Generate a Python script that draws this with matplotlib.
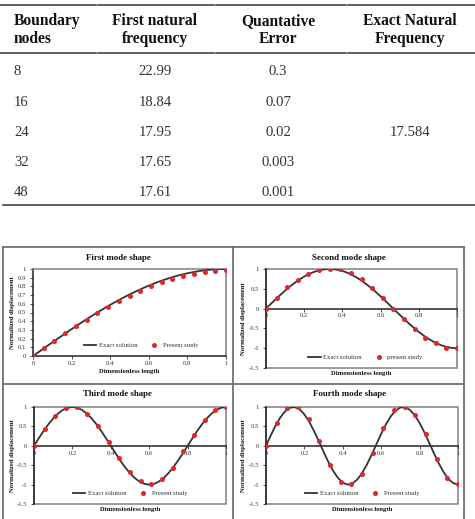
import matplotlib
matplotlib.use('Agg')
import matplotlib.pyplot as plt
import numpy as np
from matplotlib.lines import Line2D
from matplotlib.patches import Rectangle

plt.rcParams['font.family'] = ['Liberation Serif', 'DejaVu Serif']

# ---------------- table data ----------------
header = ["Boundary\nnodes", "First natural\nfrequency", "Quantative\nError", "Exact Natural\nFrequency"]
boundary_nodes = ["8", "16", "24", "32", "48"]
first_freq = ["22.99", "18.84", "17.95", "17.65", "17.61"]
quant_error = ["0.3", "0.07", "0.02", "0.003", "0.001"]
exact_freq = "17.584"

# ---------------- chart data ----------------
x_curve = np.linspace(0, 1, 41)
mode1_exact = [0, 0.039, 0.078, 0.118, 0.156, 0.195, 0.233, 0.271, 0.309, 0.346, 0.383,
               0.419, 0.454, 0.489, 0.522, 0.556, 0.588, 0.619, 0.649, 0.679, 0.707,
               0.734, 0.760, 0.785, 0.809, 0.831, 0.853, 0.872, 0.891, 0.908, 0.924,
               0.938, 0.951, 0.962, 0.972, 0.981, 0.988, 0.993, 0.997, 0.999, 1.0]
mode2_exact = [0, 0.118, 0.233, 0.346, 0.454, 0.556, 0.649, 0.734, 0.809, 0.872, 0.924,
               0.962, 0.988, 0.999, 0.997, 0.981, 0.951, 0.908, 0.853, 0.785, 0.707,
               0.619, 0.522, 0.419, 0.309, 0.195, 0.078, -0.039, -0.156, -0.271, -0.383,
               -0.489, -0.588, -0.679, -0.760, -0.831, -0.891, -0.938, -0.972, -0.993, -1.0]
mode3_exact = [0, 0.195, 0.383, 0.556, 0.707, 0.831, 0.924, 0.981, 1.0, 0.981, 0.924,
               0.831, 0.707, 0.556, 0.383, 0.195, 0, -0.195, -0.383, -0.556, -0.707,
               -0.831, -0.924, -0.981, -1.0, -0.981, -0.924, -0.831, -0.707, -0.556, -0.383,
               -0.195, 0, 0.195, 0.383, 0.556, 0.707, 0.831, 0.924, 0.981, 1.0]
mode4_exact = [0, 0.271, 0.522, 0.734, 0.891, 0.981, 0.997, 0.938, 0.809, 0.619, 0.383,
               0.118, -0.156, -0.419, -0.649, -0.831, -0.951, -0.999, -0.972, -0.872, -0.707,
               -0.489, -0.233, 0.039, 0.309, 0.556, 0.760, 0.908, 0.988, 0.993, 0.924,
               0.785, 0.588, 0.346, 0.078, -0.195, -0.454, -0.679, -0.853, -0.962, -1.0]

x_pts = np.linspace(0, 1, 19)
mode1_present = [0, 0.088, 0.17, 0.26, 0.34, 0.415, 0.49, 0.56, 0.63, 0.685,
                 0.75, 0.80, 0.85, 0.88, 0.915, 0.94, 0.96, 0.98, 0.99]
mode2_present = [0, 0.28, 0.55, 0.73, 0.88, 0.98, 1.0, 1.0, 0.89, 0.74,
                 0.53, 0.28, 0.0, -0.27, -0.51, -0.73, -0.88, -0.99, -1.0]
mode3_present = [0, 0.44, 0.77, 0.97, 1.0, 0.83, 0.51, 0.09, -0.32, -0.68,
                 -0.92, -0.99, -0.85, -0.56, -0.13, 0.27, 0.66, 0.93, 1.0]
mode4_present = [0, 0.60, 0.97, 1.0, 0.68, 0.13, -0.50, -0.94, -0.99, -0.73,
                 -0.18, 0.47, 0.93, 1.0, 0.80, 0.30, -0.34, -0.84, -0.99]

titles = ["First mode shape", "Second mode shape", "Third mode shape", "Fourth mode shape"]
legend_present = ["Present study", "present study", "Present study", "Present study"]

W, H = 475, 519
fig = plt.figure(figsize=(W / 100, H / 100), dpi=100)


def fx(px):
    return px / W


def fy(py):
    return 1 - py / H


def hline(y, x0, x1, color='#333333', lw=1.1):
    fig.add_artist(Line2D([fx(x0), fx(x1)], [fy(y), fy(y)], transform=fig.transFigure,
                          color=color, lw=lw))


def vline(x, y0, y1, color='#333333', lw=1.1):
    fig.add_artist(Line2D([fx(x), fx(x)], [fy(y0), fy(y1)], transform=fig.transFigure,
                          color=color, lw=lw))


# ---------------- table ----------------
for (a, b) in [(0, 96), (98, 214), (216, 346), (348, 475)]:
    hline(4.5, a, b)
    hline(53, a, b)
hline(205, 3, 475)

col_x = [14, 155, 278, 410]
col_ha = ['left', 'center', 'center', 'center']
for h, cx, ha in zip(header, col_x, col_ha):
    fig.text(fx(cx), fy(30), h, ha=ha, va='center', fontsize=11.2, fontweight='bold',
             linespacing=1.18, color='#111111', multialignment=ha)

row_y = [72, 102, 132, 162, 193]
for i, ry in enumerate(row_y):
    fig.text(fx(col_x[0]), fy(ry), boundary_nodes[i], ha='left', va='center', fontsize=10.6, color='#333333')
    fig.text(fx(col_x[1]), fy(ry), first_freq[i], ha='center', va='center', fontsize=10.6, color='#333333')
    fig.text(fx(col_x[2]), fy(ry), quant_error[i], ha='center', va='center', fontsize=10.6, color='#333333')
fig.text(fx(col_x[3]), fy(row_y[2]), exact_freq, ha='center', va='center', fontsize=10.6, color='#333333')

# ---------------- chart frame ----------------
frame_c = '#666666'
hline(247, 2.5, 464, color=frame_c, lw=1.2)
hline(384, 2.5, 464, color=frame_c, lw=1.2)
vline(2.5, 247, 519, color=frame_c, lw=1.2)
vline(464, 247, 519, color=frame_c, lw=1.2)
vline(233, 247, 519, color=frame_c, lw=1.2)

# ---------------- charts ----------------
boxes = [(33, 226, 269, 356), (266, 457, 269, 368), (34, 226, 407, 504), (266, 458, 407, 504)]
title_pos = [(118, 258), (349, 258), (117, 394), (350, 394)]
xlabel_y = [372, 373, 510, 510]
ylabel_x = [13, 244, 13, 244]
exacts = [mode1_exact, mode2_exact, mode3_exact, mode4_exact]
presents = [mode1_present, mode2_present, mode3_present, mode4_present]
leg_anchor_x = [0.56, 0.52, 0.5, 0.5]

for k in range(4):
    l, r, t, b = boxes[k]
    ax = fig.add_axes([fx(l), fy(b), (r - l) / W, (b - t) / H])
    ax.plot(x_curve, exacts[k], color='#333333', lw=1.3, label='Exact solution', zorder=3)
    ax.plot(x_pts, presents[k], ls='none', marker='o', ms=2.6, color='#e3262d',
            mec='#e3262d', label=legend_present[k], zorder=4)
    ax.set_xlim(0, 1)
    ax.set_xticks([0, 0.2, 0.4, 0.6, 0.8, 1.0])
    ax.set_xticklabels(['0', '0.2', '0.4', '0.6', '0.8', '1'])
    if k == 0:
        ax.set_ylim(0, 1)
        yt = np.round(np.arange(0, 1.01, 0.1), 1)
        ax.set_yticks(yt)
        ax.set_yticklabels(['0'] + [f'{v:g}' for v in yt[1:-1]] + ['1'])
        for s in ['top', 'right']:
            ax.spines[s].set_color('#808080')
        for s in ['left', 'bottom']:
            ax.spines[s].set_color('#222222')
        for s in ax.spines.values():
            s.set_linewidth(1.1)
    else:
        ax.set_ylim(-1.5, 1)
        ax.set_yticks([-1.5, -1, -0.5, 0, 0.5, 1])
        ax.set_yticklabels(['-1.5', '-1', '-0.5', '0', '0.5', '1'])
        ax.spines['bottom'].set_position(('data', 0))
        ax.spines['bottom'].set_color('#222222')
        ax.spines['left'].set_color('#222222')
        ax.spines['top'].set_visible(False)
        ax.spines['right'].set_visible(False)
        for s in ax.spines.values():
            s.set_linewidth(1.1)
        ax.add_patch(Rectangle((0, 0), 1, 1, transform=ax.transAxes, fill=False,
                               edgecolor='#808080', lw=1.1, zorder=1, clip_on=False))
    ax.tick_params(axis='both', direction='out', length=2, width=0.6, labelsize=4.8,
                   colors='#333333', pad=1.5)
    ax.tick_params(axis='y', pad=3)
    ax.set_facecolor('white')

    tx, ty = title_pos[k]
    fig.text(fx(tx), fy(ty), titles[k], ha='center', va='center', fontsize=6.4,
             fontweight='bold', color='#111111')
    fig.text(fx((l + r) / 2), fy(xlabel_y[k]), 'Dimensionless length', ha='center', va='center',
             fontsize=4.8, fontweight='bold', color='#111111')
    fig.text(fx(ylabel_x[k]), fy((t + b) / 2), 'Normalized displacement', ha='center', va='center',
             rotation=90, fontsize=4.8, fontweight='bold', color='#111111')

    leg = ax.legend(loc='lower center', bbox_to_anchor=(leg_anchor_x[k], 0.02), ncol=2,
                    frameon=False, fontsize=4.8, handlelength=1.9, columnspacing=1.6,
                    handletextpad=0.35, markerscale=1.0)
    for txt in leg.get_texts():
        txt.set_color('#333333')

fig.savefig('out.png', dpi=100)
